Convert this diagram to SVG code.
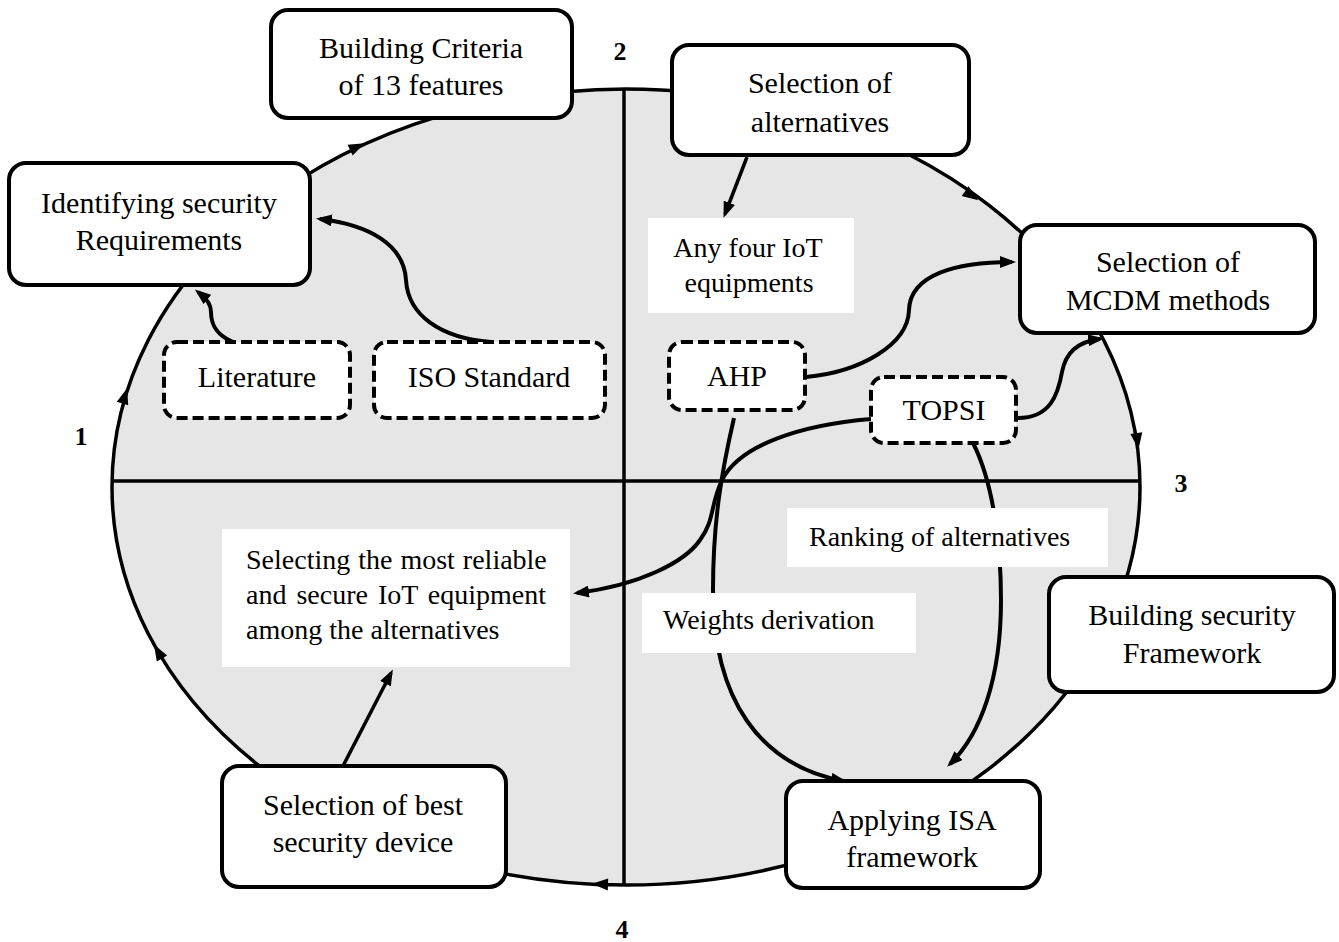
<svg xmlns="http://www.w3.org/2000/svg" width="1339" height="942" viewBox="0 0 1339 942">
<style>
.node rect{fill:#fff;stroke:#000;stroke-width:4}
.dash rect{fill:#fff;stroke:#000;stroke-width:4;stroke-dasharray:11 5}
.lbl rect{fill:#fff;stroke:none}
text{font-family:"Liberation Serif","Times New Roman",serif;fill:#000}
.t{font-size:30px;text-anchor:middle}
.s{font-size:28px}
.num{font-size:26px;font-weight:bold;text-anchor:middle}
.c{fill:none;stroke:#000;stroke-width:4;marker-end:url(#ah)}
.c3{fill:none;stroke:#000;stroke-width:3.5;marker-end:url(#ah)}
.eh{fill:#000}
</style>
<defs>
<marker id="ah" markerWidth="16" markerHeight="12" refX="12" refY="6" orient="auto" markerUnits="userSpaceOnUse">
<path d="M0,0 L16,6 L0,12 z" fill="#000"/>
</marker>
</defs>

<g id="cycle">
<ellipse cx="626" cy="487" rx="514" ry="398" fill="#e6e6e6" stroke="#000" stroke-width="3.5"/>
<line x1="112" y1="481" x2="1140" y2="481" stroke="#000" stroke-width="3.5"/>
<line x1="624" y1="89" x2="624" y2="885" stroke="#000" stroke-width="3.5"/>
<path class="eh" d="M4,0 L-12,-6 L-12,6 z" transform="translate(361,145) rotate(-25)"/>
<path class="eh" d="M4,0 L-12,-6 L-12,6 z" transform="translate(126,392) rotate(-73)"/>
<path class="eh" d="M4,0 L-12,-6 L-12,6 z" transform="translate(975,198) rotate(35)"/>
<path class="eh" d="M4,0 L-12,-6 L-12,6 z" transform="translate(1138,445) rotate(82)"/>
<path class="eh" d="M4,0 L-12,-6 L-12,6 z" transform="translate(596,884) rotate(182)"/>
<path class="eh" d="M4,0 L-12,-6 L-12,6 z" transform="translate(156,648) rotate(-120)"/>
</g>

<g id="connectors">
<path class="c" d="M233,342 C214,334 211,322 211,312 C211,305 208,300 198,292"/>
<path class="c" d="M491,342 C440,338 408,315 406,280 C404,245 370,225 320,219"/>
<path class="c" d="M806,377 C860,372 908,345 909,310 C910,275 955,262 1012,262"/>
<path class="c" d="M1018,418 C1050,418 1058,395 1062,372 C1066,350 1082,341 1100,339"/>
<path class="c" d="M871,419 C800,425 740,445 722,480 C710,505 715,520 700,540 C685,562 640,585 577,593"/>
<path class="c" d="M734,418 C722,470 713,520 713,590 C713,700 760,765 843,781"/>
<path class="c" d="M973,443 C992,480 1001,540 1001,600 C1001,680 980,735 950,764"/>
<path class="c3" d="M747,157 L725,214"/>
<path class="c3" d="M343,766 L391,673"/>
</g>

<g id="lbl-anyfour" class="lbl">
<rect x="648" y="218" width="206" height="95"/>
<text class="s" x="748" y="257" text-anchor="middle">Any four IoT</text>
<text class="s" x="749" y="292" text-anchor="middle">equipments</text>
</g>
<g id="lbl-selecting" class="lbl">
<rect x="222" y="529" width="348" height="138"/>
<text class="s" x="246" y="569" word-spacing="1">Selecting the most reliable</text>
<text class="s" x="246" y="604" word-spacing="3">and secure IoT equipment</text>
<text class="s" x="246" y="639">among the alternatives</text>
</g>
<g id="lbl-ranking" class="lbl">
<rect x="787" y="508" width="321" height="59"/>
<text class="s" x="809" y="546">Ranking of alternatives</text>
</g>
<g id="lbl-weights" class="lbl">
<rect x="642" y="593" width="274" height="60"/>
<text class="s" x="663" y="629">Weights derivation</text>
</g>

<g id="n-criteria" class="node">
<rect x="271" y="10" width="301" height="108" rx="17"/>
<text class="t" x="421" y="58">Building Criteria</text>
<text class="t" x="421" y="95">of 13 features</text>
</g>
<g id="n-identify" class="node">
<rect x="9" y="163" width="301" height="122" rx="17"/>
<text class="t" x="159" y="213">Identifying security</text>
<text class="t" x="159" y="250">Requirements</text>
</g>
<g id="n-alternatives" class="node">
<rect x="672" y="45" width="297" height="110" rx="17"/>
<text class="t" x="820" y="93">Selection of</text>
<text class="t" x="820" y="132">alternatives</text>
</g>
<g id="n-mcdm" class="node">
<rect x="1020" y="225" width="295" height="108" rx="17"/>
<text class="t" x="1168" y="272">Selection of</text>
<text class="t" x="1168" y="310">MCDM methods</text>
</g>
<g id="n-literature" class="dash">
<rect x="164" y="342" width="186" height="76" rx="13"/>
<text class="t" x="257" y="387">Literature</text>
</g>
<g id="n-iso" class="dash">
<rect x="374" y="342" width="231" height="76" rx="13"/>
<text class="t" x="489" y="387">ISO Standard</text>
</g>
<g id="n-ahp" class="dash">
<rect x="669" y="342" width="136" height="68" rx="13"/>
<text class="t" x="737" y="386">AHP</text>
</g>
<g id="n-topsi" class="dash">
<rect x="871" y="377" width="145" height="66" rx="13"/>
<text class="t" x="944" y="420">TOPSI</text>
</g>
<g id="n-best" class="node">
<rect x="222" y="766" width="284" height="121" rx="17"/>
<text class="t" x="363" y="815">Selection of best</text>
<text class="t" x="363" y="852">security device</text>
</g>
<g id="n-framework" class="node">
<rect x="1049" y="577" width="285" height="115" rx="17"/>
<text class="t" x="1192" y="625">Building security</text>
<text class="t" x="1192" y="663">Framework</text>
</g>
<g id="n-isa" class="node">
<rect x="786" y="781" width="254" height="107" rx="17"/>
<text class="t" x="912" y="830">Applying ISA</text>
<text class="t" x="912" y="867">framework</text>
</g>

<g id="numbers">
<text class="num" x="81" y="445">1</text>
<text class="num" x="620" y="60">2</text>
<text class="num" x="1181" y="492">3</text>
<text class="num" x="622" y="938">4</text>
</g>
</svg>
